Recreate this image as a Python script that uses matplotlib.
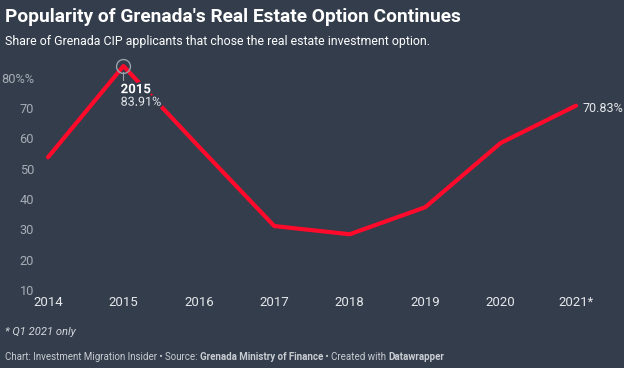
import matplotlib.pyplot as plt
import matplotlib.patheffects as pe

# data
years = ["2014", "2015", "2016", "2017", "2018", "2019", "2020", "2021*"]
share = [53.8, 83.91, 57.3, 31.1, 28.4, 37.3, 58.5, 70.83]
yticks = [10, 20, 30, 40, 50, 60, 70, 80]
ytick_labels = ["10", "20", "30", "40", "50", "60", "70", "80%%"]

bg = "#333d4c"
red = "#ff0a2b"
W, H = 624, 368

plt.rcParams["font.family"] = ["Roboto", "DejaVu Sans"]

fig = plt.figure(figsize=(W / 100, H / 100), dpi=100, facecolor=bg)

# axes placed in pixels: x 48..576, value 10 at y=290, 85 at y=63
left, right = 48, 576
bottom, top = 290, 290 - 75 * 3.03
ax = fig.add_axes([left / W, 1 - bottom / H, (right - left) / W, (bottom - top) / H])
ax.set_facecolor(bg)
for s in ax.spines.values():
    s.set_visible(False)

x = list(range(len(years)))
ax.plot(x, share, color=red, lw=3.0, solid_joinstyle="round", solid_capstyle="round",
        zorder=3, clip_on=False)

ax.set_xlim(0, len(years) - 1)
ax.set_ylim(10, 85)
ax.set_xticks(x)
ax.set_xticklabels(years, color="#e6e8ea", fontsize=9.5)
ax.set_yticks(yticks)
ax.set_yticklabels(ytick_labels, color="#a6adb6", fontsize=9.2)
ax.tick_params(axis="x", length=0, pad=4)
ax.tick_params(axis="y", length=0, pad=10)

# highlight 2015
ax.plot(1, share[1], marker="o", ms=10, mfc="none", mec="#9aa1aa", mew=1,
        zorder=4, clip_on=False)
ax.plot([1, 1], [share[1] - 1.8, share[1] - 4.6], color="#9aa1aa", lw=0.8, zorder=4)
halo = [pe.withStroke(linewidth=3, foreground=bg)]
ax.annotate("2015", xy=(1, share[1]), xytext=(-2, -17), textcoords="offset points",
            ha="left", va="center", color="white", fontsize=9.5, fontweight="bold",
            path_effects=halo, zorder=5)
ax.annotate("83.91%", xy=(1, share[1]), xytext=(-2, -26), textcoords="offset points",
            ha="left", va="center", color="#e6e8ea", fontsize=9,
            path_effects=halo, zorder=5)

# end label
ax.annotate(f"{share[-1]:.2f}%", xy=(x[-1], share[-1]), xytext=(5, -2),
            textcoords="offset points", ha="left", va="center",
            color="#e6e8ea", fontsize=9, annotation_clip=False)

# titles
fig.text(5 / W, 1 - 17 / H, "Popularity of Grenada's Real Estate Option Continues",
         color="white", fontsize=13.8, fontweight="bold", va="center", ha="left")
fig.text(5 / W, 1 - 42 / H, "Share of Grenada CIP applicants that chose the real estate investment option.",
         color="white", fontsize=8.9, va="center", ha="left")
fig.text(5 / W, 1 - 332 / H, "* Q1 2021 only", color="#d5d8dc", fontsize=8,
         style="italic", va="center", ha="left")

# footer with bold parts
parts = [("Chart: Investment Migration Insider \u2022 Source: ", "normal"),
         ("Grenada Ministry of Finance", "bold"),
         (" \u2022 Created with ", "normal"),
         ("Datawrapper", "bold")]
r = fig.canvas.get_renderer()
xpos = 5
for txt, wt in parts:
    t = fig.text(xpos / W, 1 - 357 / H, txt, color="#c9cdd2", fontsize=7,
                 fontweight=wt, va="center", ha="left")
    xpos += t.get_window_extent(renderer=r).width

fig.savefig("out.png", dpi=100, facecolor=bg)
